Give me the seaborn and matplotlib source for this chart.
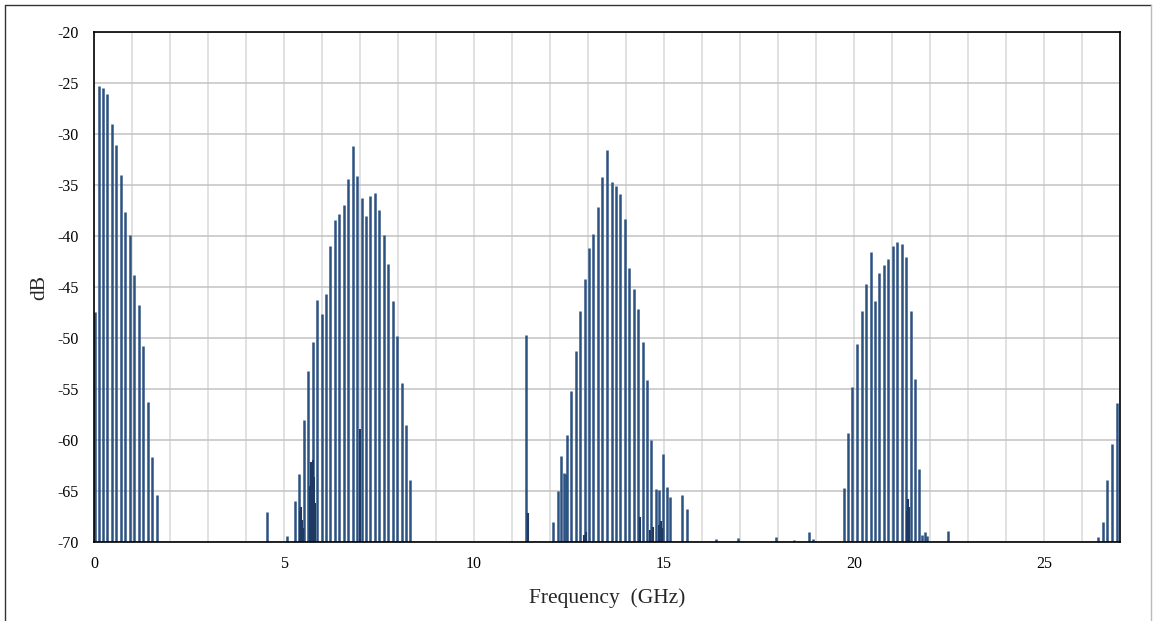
import numpy as np
import pandas as pd
import matplotlib.pyplot as plt
import seaborn as sns

# spectral lines (GHz, dB)
main_freq = [0.03, 0.12, 0.23, 0.35, 0.47, 0.59, 0.70, 0.82, 0.94, 1.05, 1.18, 1.29, 1.41, 1.53, 1.65,
             4.56, 5.08,
             5.29, 5.40, 5.52, 5.64, 5.76, 5.87, 5.99, 6.10, 6.22, 6.34, 6.46, 6.57, 6.69, 6.81,
             6.92, 7.04, 7.16, 7.27, 7.39, 7.51, 7.62, 7.74, 7.86, 7.97, 8.10, 8.21, 8.32,
             11.38,
             12.09, 12.20, 12.30, 12.36, 12.41, 12.45, 12.56, 12.68, 12.79, 12.92, 13.03, 13.14,
             13.27, 13.38, 13.50, 13.62, 13.74, 13.85, 13.97, 14.09, 14.20, 14.32, 14.44, 14.56,
             14.67, 14.79, 14.86, 14.98, 15.07, 15.17, 15.48, 15.60,
             16.36, 16.95, 17.96, 18.42, 18.55, 18.82, 18.93,
             19.74, 19.84, 19.96, 20.08, 20.20, 20.32, 20.44, 20.55, 20.67, 20.78, 20.89, 21.02,
             21.13, 21.25, 21.37, 21.49, 21.61, 21.72, 21.80, 21.86, 21.93,
             22.48,
             26.43, 26.55, 26.67, 26.79, 26.91]
main_db = [-47.5, -25.3, -25.5, -26.1, -29.0, -31.1, -34.0, -37.6, -39.9, -43.8, -46.8, -50.8, -56.3, -61.7, -65.4,
           -67.1, -69.4,
           -66.0, -63.3, -58.0, -53.2, -50.4, -46.3, -47.6, -45.7, -41.0, -38.4, -37.8, -37.0, -34.4, -31.2,
           -34.1, -36.3, -38.0, -36.1, -35.8, -37.5, -39.9, -42.7, -46.4, -49.8, -54.4, -58.5, -63.9,
           -49.7,
           -68.0, -65.0, -61.6, -63.2, -63.3, -59.5, -55.2, -51.3, -47.4, -44.2, -41.2, -39.8,
           -37.2, -34.2, -31.6, -34.7, -35.1, -35.9, -38.3, -43.1, -45.2, -47.2, -50.4, -54.1,
           -60.0, -64.8, -64.9, -61.4, -64.6, -65.6, -65.4, -66.8,
           -69.7, -69.6, -69.5, -69.8, -69.9, -69.0, -69.7,
           -64.7, -59.3, -54.8, -50.6, -47.4, -44.7, -41.6, -46.4, -43.6, -42.8, -42.3, -41.0,
           -40.6, -40.8, -42.1, -47.4, -54.0, -62.8, -69.3, -69.0, -69.4,
           -68.9,
           -69.5, -68.0, -63.9, -60.4, -56.4]

# dense low-level components drawn darker on top
minor_freq = [5.42, 5.45, 5.48, 5.51, 5.69, 5.72, 5.75, 5.78, 5.81, 6.99,
              11.41, 12.90, 12.95, 14.38, 14.62, 14.70, 14.88, 14.92, 14.95,
              21.40, 21.43, 21.46]
minor_db = [-67.0, -66.6, -67.8, -68.6, -64.5, -62.2, -62.0, -63.6, -66.2, -58.9,
            -67.2, -69.3, -69.0, -67.5, -68.8, -68.5, -68.3, -67.9, -68.6,
            -67.0, -65.8, -66.6]

FLOOR = -70


def to_long(freqs, dbs, tag):
    rows = []
    for i, (f, v) in enumerate(zip(freqs, dbs)):
        rows.append((f"{tag}{i}", f, FLOOR))
        rows.append((f"{tag}{i}", f, v))
    return pd.DataFrame(rows, columns=['bar', 'freq', 'dB'])


main_df = to_long(main_freq, main_db, 'm')
minor_df = to_long(minor_freq, minor_db, 's')

sns.set_theme(style='white')
plt.rcParams['font.family'] = ['Liberation Serif', 'DejaVu Serif']
plt.rcParams['axes.unicode_minus'] = False

fig = plt.figure(figsize=(11.55, 6.21), dpi=100)
ax = fig.add_axes([94 / 1155, 1 - 542 / 621, (1120 - 94) / 1155, (542 - 32) / 621])

sns.lineplot(data=main_df, x='freq', y='dB', units='bar', estimator=None,
             color='#2C5282', lw=1.8, solid_capstyle='butt', ax=ax, legend=False)
sns.lineplot(data=minor_df, x='freq', y='dB', units='bar', estimator=None,
             color='#1E3A62', lw=1.5, solid_capstyle='butt', ax=ax, legend=False)

ax.set_xlim(0, 27)
ax.set_ylim(-70, -20)
ax.set_xticks(range(0, 26, 5))
ax.set_xticks(range(0, 28), minor=True)
ax.set_yticks(range(-70, -19, 5))
ax.grid(which='both', axis='x', color='#D9D9D9', lw=1.1)
ax.grid(which='major', axis='y', color='#C2C2C2', lw=1.1)
ax.set_axisbelow(True)
ax.tick_params(which='both', length=0, labelsize=11.5, colors='black')
ax.tick_params(axis='x', pad=10)
ax.tick_params(axis='y', pad=11)
for s in ax.spines.values():
    s.set_color('black')
    s.set_linewidth(1.2)

ax.set_xlabel('Frequency  (GHz)', fontsize=15.5, labelpad=12)
ax.set_ylabel('dB', fontsize=15.5, labelpad=6)

# thin frame round the whole picture
fig.add_artist(plt.Line2D([5 / 1155, 5 / 1155], [0, 1 - 5 / 621], transform=fig.transFigure, color='#333333', lw=1))
fig.add_artist(plt.Line2D([5 / 1155, 1151 / 1155], [1 - 5 / 621, 1 - 5 / 621], transform=fig.transFigure, color='#333333', lw=1))
fig.add_artist(plt.Line2D([1151 / 1155, 1151 / 1155], [0, 1 - 5 / 621], transform=fig.transFigure, color='#BBBBBB', lw=1))

fig.savefig('out.png', dpi=100)
